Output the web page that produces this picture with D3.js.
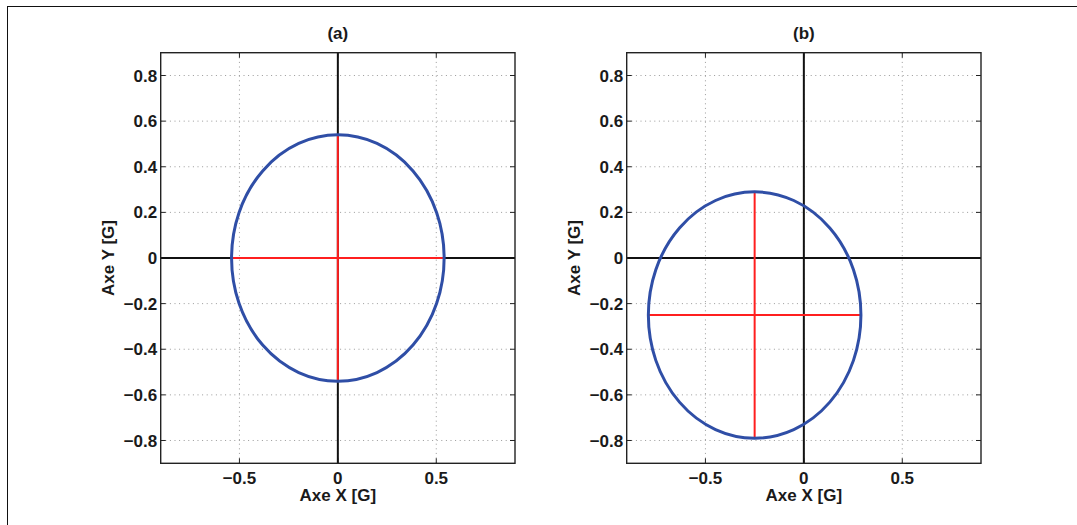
<!DOCTYPE html>
<html lang="en">
<head>
<meta charset="utf-8">
<script src="https://d3js.org/d3.v7.min.js"></script>
<style>
  body { margin: 0; background: white; }
  svg { display: block; font-family: "Liberation Sans", Arial, sans-serif; }
  .lbl { font-size: 17px; font-weight: bold; fill: #1a1a1a; }
  .grid line { stroke: #9a9a9a; stroke-width: 1; stroke-dasharray: 1, 3.6; }
</style>
</head>
<body>
<svg id="fig" width="1077" height="525"></svg>
<script>
// panel data
var panelTitles = ["(a)", "(b)"];
var centerX = [0, -0.25];
var centerY = [0, -0.25];
var radiusX = [0.54, 0.54];
var radiusY = [0.54, 0.54];
var xTicks = [-0.5, 0, 0.5];
var yTicks = [-0.8, -0.6, -0.4, -0.2, 0, 0.2, 0.4, 0.6, 0.8];
var xDomain = [-0.9, 0.9];
var yDomain = [-0.9, 0.9];

var svg = d3.select("#fig");

// outer frame (left + top edges visible)
svg.append("rect")
  .attr("x", 7.5).attr("y", 6.5)
  .attr("width", 1200).attr("height", 600)
  .attr("fill", "none").attr("stroke", "#111").attr("stroke-width", 1);

var panelLeft = [160.7, 626.7];
var plotW = 354.3, plotTop = 52.7, plotH = 410.6;

function fmt(v) {
  if (v === 0) return "0";
  return d3.format(".1f")(v).replace("-", "\u2212");
}

panelTitles.forEach(function (title, i) {
  var x = d3.scaleLinear().domain(xDomain).range([0, plotW]);
  var y = d3.scaleLinear().domain(yDomain).range([plotH, 0]);
  var g = svg.append("g").attr("transform", "translate(" + panelLeft[i] + "," + plotTop + ")");

  // grid
  g.append("g").attr("class", "grid")
    .selectAll("line.v").data(xTicks).enter().append("line")
    .attr("x1", function (d) { return x(d); }).attr("x2", function (d) { return x(d); })
    .attr("y1", 0).attr("y2", plotH);
  g.append("g").attr("class", "grid")
    .selectAll("line.h").data(yTicks).enter().append("line")
    .attr("x1", 0).attr("x2", plotW)
    .attr("y1", function (d) { return y(d); }).attr("y2", function (d) { return y(d); });

  // inner ticks (matlab style)
  var tk = 5;
  var ticks = g.append("g").attr("stroke", "#222").attr("stroke-width", 1);
  xTicks.forEach(function (d) {
    ticks.append("line").attr("x1", x(d)).attr("x2", x(d)).attr("y1", plotH).attr("y2", plotH - tk);
    ticks.append("line").attr("x1", x(d)).attr("x2", x(d)).attr("y1", 0).attr("y2", tk);
  });
  yTicks.forEach(function (d) {
    ticks.append("line").attr("x1", 0).attr("x2", tk).attr("y1", y(d)).attr("y2", y(d));
    ticks.append("line").attr("x1", plotW).attr("x2", plotW - tk).attr("y1", y(d)).attr("y2", y(d));
  });

  // zero axes
  g.append("line").attr("x1", x(0)).attr("x2", x(0)).attr("y1", 0).attr("y2", plotH)
    .attr("stroke", "#111").attr("stroke-width", 2);
  g.append("line").attr("x1", 0).attr("x2", plotW).attr("y1", y(0)).attr("y2", y(0))
    .attr("stroke", "#111").attr("stroke-width", 2);

  // red cross through the ellipse centre
  var cx = centerX[i], cy = centerY[i], rx = radiusX[i], ry = radiusY[i];
  g.append("line").attr("x1", x(cx - rx)).attr("x2", x(cx + rx)).attr("y1", y(cy)).attr("y2", y(cy))
    .attr("stroke", "#ff1f1f").attr("stroke-width", 2);
  g.append("line").attr("x1", x(cx)).attr("x2", x(cx)).attr("y1", y(cy + ry)).attr("y2", y(cy - ry))
    .attr("stroke", "#ff1f1f").attr("stroke-width", 2);

  // ellipse
  g.append("ellipse")
    .attr("cx", x(cx)).attr("cy", y(cy))
    .attr("rx", x(rx) - x(0)).attr("ry", y(0) - y(ry))
    .attr("fill", "none").attr("stroke", "#2f4ea6").attr("stroke-width", 3);

  // box
  g.append("rect").attr("x", 0).attr("y", 0).attr("width", plotW).attr("height", plotH)
    .attr("fill", "none").attr("stroke", "#222").attr("stroke-width", 1.4);

  // tick labels
  g.selectAll("text.xt").data(xTicks).enter().append("text")
    .attr("class", "lbl").attr("text-anchor", "middle")
    .attr("x", function (d) { return x(d); }).attr("y", plotH + 20.5)
    .text(fmt);
  g.selectAll("text.yt").data(yTicks).enter().append("text")
    .attr("class", "lbl").attr("text-anchor", "end")
    .attr("x", -3.5).attr("y", function (d) { return y(d); }).attr("dy", "0.36em")
    .text(fmt);

  // axis labels + title
  g.append("text").attr("class", "lbl").attr("text-anchor", "middle")
    .attr("x", x(0)).attr("y", plotH + 37.5).text("Axe X [G]");
  g.append("text").attr("class", "lbl").attr("text-anchor", "middle")
    .attr("transform", "translate(-46.5," + y(0) + ") rotate(-90)")
    .text("Axe Y [G]");
  g.append("text").attr("class", "lbl").attr("text-anchor", "middle")
    .attr("x", x(0)).attr("y", -13.7).text(title);
});
</script>
</body>
</html>
